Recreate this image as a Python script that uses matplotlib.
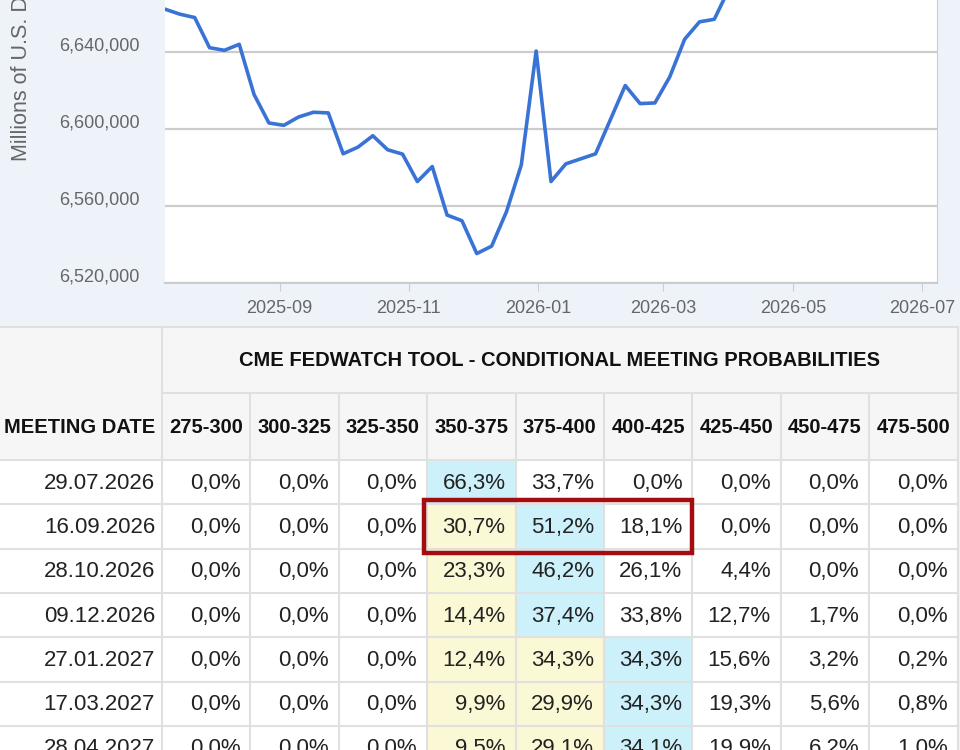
import numpy as np
import pandas as pd
import matplotlib
matplotlib.use("Agg")
import matplotlib.pyplot as plt
import matplotlib.transforms as mtransforms
from matplotlib.patches import Rectangle

plt.rcParams['font.family'] = ['Liberation Sans', 'DejaVu Sans']

# ---- line chart data (weekly) ----
dates = pd.date_range('2025-07-09', periods=39, freq='7D')
values = [6662250, 6659650, 6657900, 6642250, 6640860, 6644000, 6617900, 6603130,
          6601900, 6606250, 6608700, 6608350, 6587130, 6590600, 6596500, 6589200,
          6586950, 6572700, 6580500, 6555300, 6552350, 6535300, 6539130, 6557040,
          6581400, 6640500, 6572700, 6581900, 6584500, 6587100, 6604850, 6622600,
          6613200, 6613550, 6627100, 6646600, 6655650, 6657000, 6673000]
y_ticks = [6520000, 6560000, 6600000, 6640000]
x_ticks = ['2025-09-01', '2025-11-01', '2026-01-01', '2026-03-01', '2026-05-01', '2026-07-01']

# ---- table data ----
header_title = 'CME FEDWATCH TOOL - CONDITIONAL MEETING PROBABILITIES'
rate_ranges = ['275-300', '300-325', '325-350', '350-375', '375-400',
               '400-425', '425-450', '450-475', '475-500']
meeting_dates = ['29.07.2026', '16.09.2026', '28.10.2026', '09.12.2026',
                 '27.01.2027', '17.03.2027', '28.04.2027']
probs = [
    [0.0, 0.0, 0.0, 66.3, 33.7, 0.0, 0.0, 0.0, 0.0],
    [0.0, 0.0, 0.0, 30.7, 51.2, 18.1, 0.0, 0.0, 0.0],
    [0.0, 0.0, 0.0, 23.3, 46.2, 26.1, 4.4, 0.0, 0.0],
    [0.0, 0.0, 0.0, 14.4, 37.4, 33.8, 12.7, 1.7, 0.0],
    [0.0, 0.0, 0.0, 12.4, 34.3, 34.3, 15.6, 3.2, 0.2],
    [0.0, 0.0, 0.0, 9.9, 29.9, 34.3, 19.3, 5.6, 0.8],
    [0.0, 0.0, 0.0, 9.5, 29.1, 34.1, 19.9, 6.2, 1.0],
]

BG = '#eef3fa'
W, H = 960, 750
fig = plt.figure(figsize=(9.6, 7.5), dpi=100, facecolor=BG)

# chart axes: bottom at y=283px, extends above the figure top
ax_top, ax_bot = -100, 283
ax = fig.add_axes([165 / W, (H - ax_bot) / H, (937 - 165) / W, (ax_bot - ax_top) / H])
ax.set_facecolor('white')
ax.plot(dates, values, color='#3a73d6', lw=2.6, zorder=3)
ax.set_xlim(pd.Timestamp('2025-07-09'), pd.Timestamp('2026-07-08'))
per_px = 40000 / 77.0
ax.set_ylim(6520000, 6520000 + (ax_bot - ax_top) * per_px)
ax.set_yticks(y_ticks)
ax.set_yticklabels([f'{v:,}' for v in y_ticks])
ax.set_xticks(pd.to_datetime(x_ticks))
ax.set_xticklabels([t[:7] for t in x_ticks])
ax.grid(axis='y', color='#cccccc', lw=1.6)
ax.grid(axis='x', visible=False)
for s in ['top', 'left']:
    ax.spines[s].set_visible(False)
ax.spines['bottom'].set_color('#cccccc')
ax.spines['bottom'].set_linewidth(1.5)
ax.spines['right'].set_color('#cccccc')
ax.tick_params(axis='y', length=0, labelsize=13, labelcolor='#666666', pad=18)
ax.tick_params(axis='x', length=6, color='#cccccc', labelsize=13, labelcolor='#666666', pad=6)
off = mtransforms.ScaledTranslation(0, 8 / 100, fig.dpi_scale_trans)
for lab in ax.get_yticklabels():
    lab.set_transform(lab.get_transform() + off)
ax.set_ylabel('Millions of U.S. Dollars', fontsize=15.5, color='#666666', labelpad=22)
ax.yaxis.set_label_coords(-0.172, 0.60)

# table axes in pixel coordinates
tx = fig.add_axes([0, 0, 1, 1], zorder=5)
tx.set_xlim(0, W)
tx.set_ylim(H, 0)
tx.axis('off')

col_edges = [-5, 162] + [162 + 88.4 * (i + 1) for i in range(len(rate_ranges))]
h1_top, h1_bot, h2_bot = 327, 393, 460
row_h = 44.3
tbl_right = col_edges[-1]
grid_c = '#e0e0e0'

tx.add_patch(Rectangle((-5, h1_top), tbl_right + 5, H - h1_top + 10, facecolor='white',
                       edgecolor='none'))
tx.add_patch(Rectangle((-5, h1_top), tbl_right + 5, h2_bot - h1_top, facecolor='#f6f6f6',
                       edgecolor='none'))

yellow, blue = '#fbf8d5', '#cdf1fb'
for r, row in enumerate(probs):
    y0 = h2_bot + r * row_h
    mx = max(row)
    imax = max(i for i, v in enumerate(row) if v == mx)
    for c, v in enumerate(row):
        fc = None
        if c == imax:
            fc = blue
        elif c < imax and v > 0:
            fc = yellow
        if fc:
            tx.add_patch(Rectangle((col_edges[c + 1], y0), col_edges[c + 2] - col_edges[c + 1],
                                   row_h, facecolor=fc, edgecolor='none'))
        tx.text(col_edges[c + 2] - 10, y0 + row_h / 2 + 1, f'{v:.1f}%'.replace('.', ','),
                ha='right', va='center', fontsize=16, color='#222222')
    tx.text(col_edges[1] - 7, y0 + row_h / 2 + 1, meeting_dates[r], ha='right', va='center',
            fontsize=16, color='#222222')
    tx.plot([-5, tbl_right], [y0, y0], color=grid_c, lw=1.5)

# header lines and text
tx.plot([-5, tbl_right], [h1_top, h1_top], color=grid_c, lw=1.5)
tx.plot([col_edges[1], tbl_right], [h1_bot, h1_bot], color=grid_c, lw=1.5)
for i, x in enumerate(col_edges[1:]):
    ytop = h1_top if i == 0 or i == len(col_edges) - 2 else h1_bot
    tx.plot([x, x], [ytop, H + 5], color=grid_c, lw=1.5)
tx.text((col_edges[1] + tbl_right) / 2, (h1_top + h1_bot) / 2 + 1, header_title,
        ha='center', va='center', fontsize=14.5, fontweight='bold', color='#111111')
tx.text(col_edges[1] - 7, (h1_bot + h2_bot) / 2 + 1, 'MEETING DATE', ha='right', va='center',
        fontsize=14.5, fontweight='bold', color='#111111')
for c, lab in enumerate(rate_ranges):
    tx.text((col_edges[c + 1] + col_edges[c + 2]) / 2, (h1_bot + h2_bot) / 2 + 1, lab,
            ha='center', va='center', fontsize=14.5, fontweight='bold', color='#111111')

# highlighted box around 16.09.2026 row
tx.add_patch(Rectangle((col_edges[4] - 3, h2_bot + row_h - 4), col_edges[7] - col_edges[4] + 3,
                       row_h + 8, facecolor='none', edgecolor='#a30d12', lw=3.2, zorder=10))

fig.savefig('out.png', dpi=100, facecolor=BG)
